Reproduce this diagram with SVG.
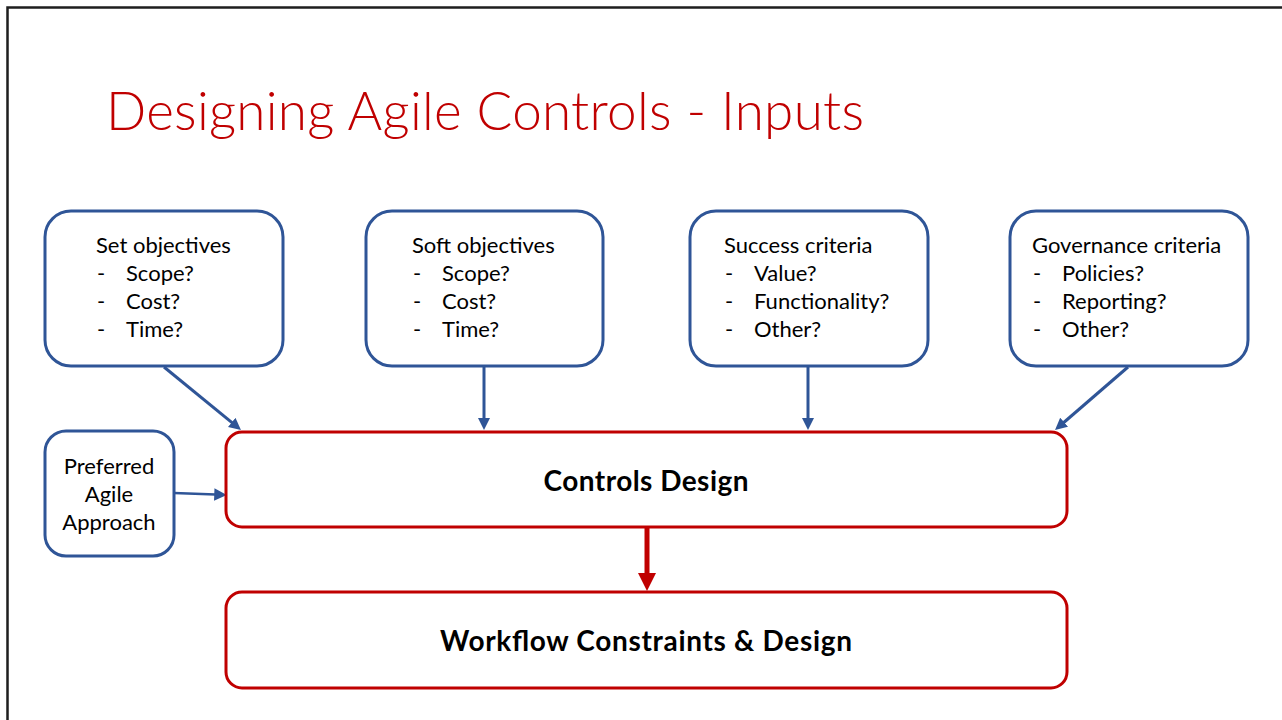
<svg xmlns="http://www.w3.org/2000/svg" width="1282" height="720" viewBox="0 0 1282 720">
<style>
.bg{fill:#ffffff}
.frame{fill:none;stroke:#1e1e1e;stroke-width:2.5}
.title{font-family:Lato,"Open Sans","Liberation Sans",sans-serif;font-weight:300;font-size:53px;fill:#C00000}
.inbox{fill:#ffffff;stroke:#2F5597;stroke-width:3}
.redbox{fill:#ffffff;stroke:#C00000;stroke-width:3}
.t{font-family:Lato,"Open Sans","Liberation Sans",sans-serif;font-size:22px;fill:#000000}
.tc{font-family:Lato,"Open Sans","Liberation Sans",sans-serif;font-size:22px;fill:#000000;text-anchor:middle}
.b{font-family:Lato,"Open Sans","Liberation Sans",sans-serif;font-weight:bold;font-size:28px;fill:#000000;text-anchor:middle}
.blue{stroke:#2F5597;stroke-width:3;fill:none}
.red{stroke:#C00000;stroke-width:5;fill:none}
</style>
<defs>
<marker id="ahB" viewBox="0 0 10 10" refX="1" refY="5" markerWidth="4" markerHeight="4" markerUnits="strokeWidth" orient="auto">
<path d="M0,0 L10,5 L0,10 z" fill="#2F5597"/>
</marker>
<marker id="ahB2" viewBox="0 0 10 10" refX="1" refY="5" markerWidth="5" markerHeight="5" markerUnits="strokeWidth" orient="auto">
<path d="M0,0 L10,5 L0,10 z" fill="#2F5597"/>
</marker>
<marker id="ahR" viewBox="0 0 10 10" refX="1" refY="5" markerWidth="3.6" markerHeight="3.6" markerUnits="strokeWidth" orient="auto">
<path d="M0,0 L10,5 L0,10 z" fill="#C00000"/>
</marker>
</defs>
<rect class="bg" x="0" y="0" width="1282" height="720"/>
<path class="frame" d="M7.5,722 V7.5 H1284"/>
<text class="title" x="106" y="130" textLength="758">Designing Agile Controls - Inputs</text>

<g id="connectors">
<line class="blue" x1="164" y1="367" x2="232.6" y2="423.2" marker-end="url(#ahB)"/>
<line class="blue" x1="484" y1="367" x2="484" y2="419.2" marker-end="url(#ahB)"/>
<line class="blue" x1="808" y1="367" x2="808" y2="419.2" marker-end="url(#ahB)"/>
<line class="blue" x1="1128" y1="367" x2="1063.2" y2="423" marker-end="url(#ahB)"/>
<line class="blue" style="stroke-width:2.5" x1="174" y1="493" x2="215.5" y2="494.5" marker-end="url(#ahB2)"/>
<line class="red" x1="647" y1="528" x2="647" y2="574.8" marker-end="url(#ahR)"/>
</g>

<g id="set-objectives">
<rect class="inbox" x="45" y="211" width="238" height="155" rx="26"/>
<text class="t" x="96" y="253">Set objectives</text>
<text class="t" x="97" y="281">-</text><text class="t" x="126" y="281">Scope?</text>
<text class="t" x="97" y="309">-</text><text class="t" x="126" y="309">Cost?</text>
<text class="t" x="97" y="337">-</text><text class="t" x="126" y="337">Time?</text>
</g>

<g id="soft-objectives">
<rect class="inbox" x="366" y="211" width="237" height="155" rx="26"/>
<text class="t" x="412" y="253">Soft objectives</text>
<text class="t" x="413" y="281">-</text><text class="t" x="442" y="281">Scope?</text>
<text class="t" x="413" y="309">-</text><text class="t" x="442" y="309">Cost?</text>
<text class="t" x="413" y="337">-</text><text class="t" x="442" y="337">Time?</text>
</g>

<g id="success-criteria">
<rect class="inbox" x="690" y="211" width="238" height="155" rx="26"/>
<text class="t" x="724" y="253">Success criteria</text>
<text class="t" x="725" y="281">-</text><text class="t" x="754" y="281">Value?</text>
<text class="t" x="725" y="309">-</text><text class="t" x="754" y="309">Functionality?</text>
<text class="t" x="725" y="337">-</text><text class="t" x="754" y="337">Other?</text>
</g>

<g id="governance-criteria">
<rect class="inbox" x="1010" y="211" width="238" height="155" rx="26"/>
<text class="t" x="1032" y="253">Governance criteria</text>
<text class="t" x="1033" y="281">-</text><text class="t" x="1062" y="281">Policies?</text>
<text class="t" x="1033" y="309">-</text><text class="t" x="1062" y="309">Reporting?</text>
<text class="t" x="1033" y="337">-</text><text class="t" x="1062" y="337">Other?</text>
</g>

<g id="preferred-agile-approach">
<rect class="inbox" x="45" y="431" width="129" height="125" rx="21"/>
<text class="tc" x="109" y="474">Preferred</text>
<text class="tc" x="109" y="502">Agile</text>
<text class="tc" x="109" y="530">Approach</text>
</g>

<g id="controls-design">
<rect class="redbox" x="226" y="432" width="841" height="95" rx="16"/>
<text class="b" x="646" y="491" textLength="205">Controls Design</text>
</g>

<g id="workflow-constraints-design">
<rect class="redbox" x="226" y="592" width="841" height="96" rx="16"/>
<text class="b" x="646" y="651" textLength="412">Workflow Constraints &amp; Design</text>
</g>
</svg>
